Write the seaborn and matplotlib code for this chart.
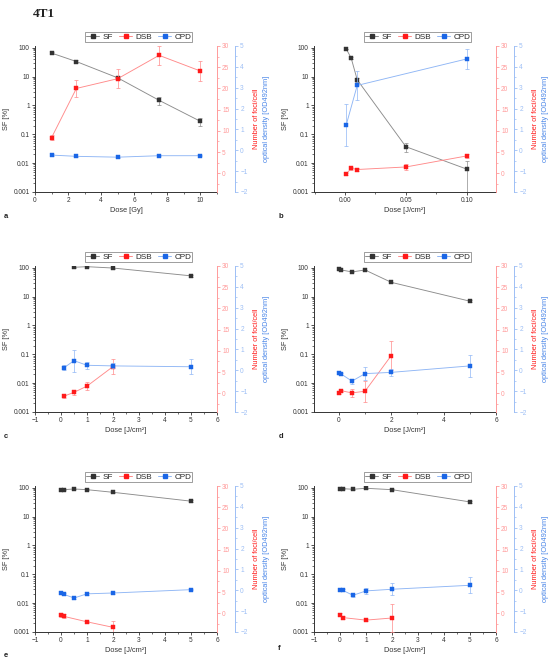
import numpy as np
import pandas as pd
import matplotlib
matplotlib.use("Agg")
import matplotlib.pyplot as plt
import seaborn as sns
from matplotlib.lines import Line2D
from matplotlib.ticker import FixedLocator, MultipleLocator, NullFormatter

# ---------------- data ----------------
A_DOSE = [1, 2.5, 5, 7.5, 10]
A_SF = [65, 33, 9, 1.5, 0.28]
A_SF_ERR = [5, 3, 1.5, 0.45, 0.08]
A_DSB = [8.4, 20.0, 22.3, 27.8, 24.1]
A_DSB_ERR = [0.6, 2.1, 2.3, 2.3, 2.3]
A_CPD = [-0.23, -0.29, -0.33, -0.26, -0.26]
A_CPD_ERR = [0.03, 0.03, 0.03, 0.03, 0.03]

B_SF_DOSE = [0.001, 0.005, 0.01, 0.05, 0.1]
B_SF = [90, 44, 7.7, 0.037, 0.0062]
B_SF_ERR = [3, 2, 1, 0.012, 0.006]
B_DSB_DOSE = [0.001, 0.005, 0.01, 0.05, 0.1]
B_DSB = [-0.2, 1.2, 0.9, 1.5, 4.1]
B_DSB_ERR = [0.3, 0.4, 0.3, 0.8, 0.5]
B_CPD_DOSE = [0.001, 0.01, 0.1]
B_CPD = [1.22, 3.11, 4.38]
B_CPD_ERR = [1.0, 0.7, 0.48]

C_SF_DOSE = [0.5, 1, 2, 5]
C_SF = [103, 108, 97, 52]
C_SF_ERR = [3, 3, 4, 3]
C_DSB_DOSE = [0.1, 0.5, 1, 2]
C_DSB = [-0.7, 0.23, 1.7, 6.3]
C_DSB_ERR = [0.4, 0.6, 1.0, 1.8]
C_CPD_DOSE = [0.1, 0.5, 1, 2, 5]
C_CPD = [0.11, 0.46, 0.24, 0.21, 0.17]
C_CPD_ERR = [0.12, 0.53, 0.18, 0.12, 0.35]

D_SF_DOSE = [0, 0.1, 0.5, 1, 2, 5]
D_SF = [88, 83, 71, 83, 31, 6.9]
D_SF_ERR = [3, 3, 3, 3, 2, 0.4]
D_DSB_DOSE = [0, 0.1, 0.5, 1, 2]
D_DSB = [0.1, 0.6, 0.1, 0.5, 8.9]
D_DSB_ERR = [0.3, 0.3, 1.0, 2.5, 3.5]
D_CPD_DOSE = [0, 0.1, 0.5, 1, 2, 5]
D_CPD = [-0.11, -0.19, -0.52, -0.16, -0.10, 0.21]
D_CPD_ERR = [0.05, 0.05, 0.12, 0.3, 0.15, 0.52]

E_SF_DOSE = [0, 0.1, 0.5, 1, 2, 5]
E_SF = [85, 85, 90, 85, 69, 34]
E_SF_ERR = [3, 3, 3, 3, 3, 2]
E_DSB_DOSE = [0, 0.1, 1, 2]
E_DSB = [-0.4, -0.7, -2.0, -3.3]
E_DSB_ERR = [0.5, 0.5, 0.2, 1.5]
E_CPD_DOSE = [0, 0.1, 0.5, 1, 2, 5]
E_CPD = [-0.11, -0.19, -0.37, -0.17, -0.13, 0.03]
E_CPD_ERR = [0.04, 0.04, 0.05, 0.04, 0.04, 0.04]

F_SF_DOSE = [0, 0.1, 0.5, 1, 2, 5]
F_SF = [92, 92, 88, 95, 85, 32]
F_SF_ERR = [3, 3, 3, 3, 3, 2]
F_DSB_DOSE = [0, 0.1, 1, 2]
F_DSB = [-0.3, -1.0, -1.6, -1.1]
F_DSB_ERR = [0.4, 0.3, 0.2, 3.2]
F_CPD_DOSE = [0, 0.1, 0.5, 1, 2, 5]
F_CPD = [0.0, 0.0, -0.24, -0.03, 0.05, 0.24]
F_CPD_ERR = [0.05, 0.05, 0.06, 0.15, 0.28, 0.38]

SF_TICKS = [0.001, 0.01, 0.1, 1, 10, 100]
SF_TICK_LABELS = ["0.001", "0.01", "0.1", "1", "10", "100"]
SERIES_NAMES = ["SF", "DSB", "CPD"]
PANEL_LETTERS = ["a", "b", "c", "d", "e", "f"]
X_LABELS = ["Dose [Gy]", "Dose [J/cm²]", "Dose [J/cm²]", "Dose [J/cm²]", "Dose [J/cm²]", "Dose [J/cm²]"]

# ---------------- style ----------------
sns.set_style("ticks")
plt.rcParams["font.family"] = ["Liberation Sans", "DejaVu Sans"]
plt.rcParams["axes.linewidth"] = 0.7

SF_LINE, SF_MK = "#8c8c8c", "#333333"
DSB_LINE, DSB_MK = "#ff8a8a", "#ff1a1a"
CPD_LINE, CPD_MK = "#8fb6f5", "#1a66e6"
RED_AX, BLUE_AX = "#ff9a9a", "#9dbff5"
DARK = "#333333"

fig = plt.figure(figsize=(5.5, 6.66), dpi=100)

W = 182 / 550
H = 146 / 666
lefts = [35 / 550, 314 / 550]
bottoms = [1 - 192 / 666, 1 - 412 / 666, 1 - 632 / 666]

panels = [
    dict(sf=(A_DOSE, A_SF, A_SF_ERR), dsb=(A_DOSE, A_DSB, A_DSB_ERR), cpd=(A_DOSE, A_CPD, A_CPD_ERR),
         xlim=(0, 11), major=2, minor=1, fmt="{:g}"),
    dict(sf=(B_SF_DOSE, B_SF, B_SF_ERR), dsb=(B_DSB_DOSE, B_DSB, B_DSB_ERR), cpd=(B_CPD_DOSE, B_CPD, B_CPD_ERR),
         xlim=(-0.0255, 0.124), major=0.05, minor=0.025, fmt="{:.2f}"),
    dict(sf=(C_SF_DOSE, C_SF, C_SF_ERR), dsb=(C_DSB_DOSE, C_DSB, C_DSB_ERR), cpd=(C_CPD_DOSE, C_CPD, C_CPD_ERR),
         xlim=(-1, 6), major=1, minor=0.5, fmt="{:g}"),
    dict(sf=(D_SF_DOSE, D_SF, D_SF_ERR), dsb=(D_DSB_DOSE, D_DSB, D_DSB_ERR), cpd=(D_CPD_DOSE, D_CPD, D_CPD_ERR),
         xlim=(-0.95, 6), major=2, minor=1, fmt="{:g}"),
    dict(sf=(E_SF_DOSE, E_SF, E_SF_ERR), dsb=(E_DSB_DOSE, E_DSB, E_DSB_ERR), cpd=(E_CPD_DOSE, E_CPD, E_CPD_ERR),
         xlim=(-1, 6), major=1, minor=0.5, fmt="{:g}"),
    dict(sf=(F_SF_DOSE, F_SF, F_SF_ERR), dsb=(F_DSB_DOSE, F_DSB, F_DSB_ERR), cpd=(F_CPD_DOSE, F_CPD, F_CPD_ERR),
         xlim=(-1, 6), major=1, minor=0.5, fmt="{:g}"),
]

letter_pos = [(0.006, 0.672), (0.506, 0.672), (0.006, 0.342), (0.506, 0.342), (0.006, 0.013), (0.506, 0.024)]

TICK_FS = 4.7
LAB_FS = 5.3


def draw(ax, data, line_c, mk_c):
    x, y, e = data
    df = pd.DataFrame({"x": x, "y": y})
    ax.errorbar(x, y, yerr=e, fmt="none", ecolor=line_c, elinewidth=0.5, capsize=1.3, capthick=0.5, zorder=2)
    sns.lineplot(data=df, x="x", y="y", ax=ax, color=line_c, linewidth=0.65, marker="s",
                 markersize=2.6, markerfacecolor=mk_c, markeredgecolor=mk_c, markeredgewidth=0.3,
                 sort=False, legend=False, errorbar=None, zorder=3)
    ax.set_xlabel("")
    ax.set_ylabel("")


for i, p in enumerate(panels):
    col, row = i % 2, i // 2
    ax = fig.add_axes([lefts[col], bottoms[row], W, H])
    ax2 = ax.twinx()
    ax3 = ax.twinx()

    draw(ax, p["sf"], SF_LINE, SF_MK)
    draw(ax2, p["dsb"], DSB_LINE, DSB_MK)
    draw(ax3, p["cpd"], CPD_LINE, CPD_MK)

    # left log axis
    ax.set_yscale("log")
    ax.set_ylim(0.001, 114)
    ax.yaxis.set_major_locator(FixedLocator(SF_TICKS))
    ax.set_yticklabels(SF_TICK_LABELS)
    ax.yaxis.set_minor_formatter(NullFormatter())
    ax.set_xlim(*p["xlim"])
    ax.xaxis.set_major_locator(MultipleLocator(p["major"]))
    ax.xaxis.set_minor_locator(MultipleLocator(p["minor"]))
    ax.xaxis.set_major_formatter(matplotlib.ticker.FuncFormatter(
        lambda v, _, f=p["fmt"]: f.format(0 if abs(v) < 1e-9 else v).replace("-", "\u2212")))
    ax.set_xlim(*p["xlim"])
    ax.tick_params(axis="both", which="major", labelsize=TICK_FS, length=2.2, width=0.6, colors=DARK, pad=1.5)
    ax.tick_params(axis="both", which="minor", length=1.2, width=0.5, colors=DARK)
    ax.set_ylabel("SF [%]", fontsize=LAB_FS, color=DARK)
    ax.yaxis.set_label_coords(-0.14, 0.5)
    ax.set_xlabel(X_LABELS[i], fontsize=LAB_FS, color=DARK, labelpad=2)
    for s in ["top", "right"]:
        ax.spines[s].set_visible(False)
    for s in ["left", "bottom"]:
        ax.spines[s].set_color(DARK)
        ax.spines[s].set_linewidth(0.7)

    # red axis
    ax2.set_ylim(-4.4, 30)
    ax2.yaxis.set_major_locator(MultipleLocator(5))
    ax2.yaxis.set_minor_locator(MultipleLocator(2.5))
    for s in ["top", "left", "bottom"]:
        ax2.spines[s].set_visible(False)
    ax2.spines["right"].set_color(RED_AX)
    ax2.spines["right"].set_linewidth(0.7)
    ax2.tick_params(axis="y", which="major", labelsize=TICK_FS, length=2.2, width=0.6, colors=RED_AX, pad=1.5)
    ax2.tick_params(axis="y", which="minor", length=1.2, width=0.5, colors=RED_AX)
    ax2.set_ylabel("Number of foci/cell", fontsize=LAB_FS, color="#ff1a1a")
    ax2.yaxis.set_label_coords(1.198, 0.5)

    # blue axis
    ax3.set_ylim(-2, 5)
    ax3.yaxis.set_major_locator(MultipleLocator(1))
    ax3.yaxis.set_minor_locator(MultipleLocator(0.5))
    ax3.spines["right"].set_position(("outward", 13))
    for s in ["top", "left", "bottom"]:
        ax3.spines[s].set_visible(False)
    ax3.spines["right"].set_color(BLUE_AX)
    ax3.spines["right"].set_linewidth(0.7)
    ax3.tick_params(axis="y", which="major", labelsize=TICK_FS, length=2.2, width=0.6, colors=BLUE_AX, pad=1.5)
    ax3.tick_params(axis="y", which="minor", length=1.2, width=0.5, colors=BLUE_AX)
    ax3.set_ylabel("optical density [OD492nm]", fontsize=LAB_FS, color="#4a86e8")
    ax3.yaxis.set_label_coords(1.255, 0.5)

    # legend
    handles = [
        Line2D([0], [0], color=SF_LINE, lw=0.7, marker="s", markersize=2.6, markerfacecolor=SF_MK, markeredgecolor=SF_MK),
        Line2D([0], [0], color=DSB_LINE, lw=0.7, marker="s", markersize=2.6, markerfacecolor=DSB_MK, markeredgecolor=DSB_MK),
        Line2D([0], [0], color=CPD_LINE, lw=0.7, marker="s", markersize=2.6, markerfacecolor=CPD_MK, markeredgecolor=CPD_MK),
    ]
    leg = ax3.legend(handles, SERIES_NAMES, loc="lower center", bbox_to_anchor=(0.57, 1.025), ncol=3,
                     fontsize=5.9, frameon=True, fancybox=False, edgecolor="#555555", borderpad=0.15,
                     handlelength=1.6, handletextpad=0.35, columnspacing=0.8, borderaxespad=0)
    leg.get_frame().set_linewidth(0.5)

    fig.text(letter_pos[i][0], letter_pos[i][1], PANEL_LETTERS[i], fontsize=5.5, fontweight="bold", color="#222222")

fig.text(0.06, 0.979, "4T1", fontsize=9.5, fontweight="bold", family=["Liberation Serif", "DejaVu Serif"],
         va="center", ha="left", color="#222222")

fig.savefig("out.png", dpi=100)
